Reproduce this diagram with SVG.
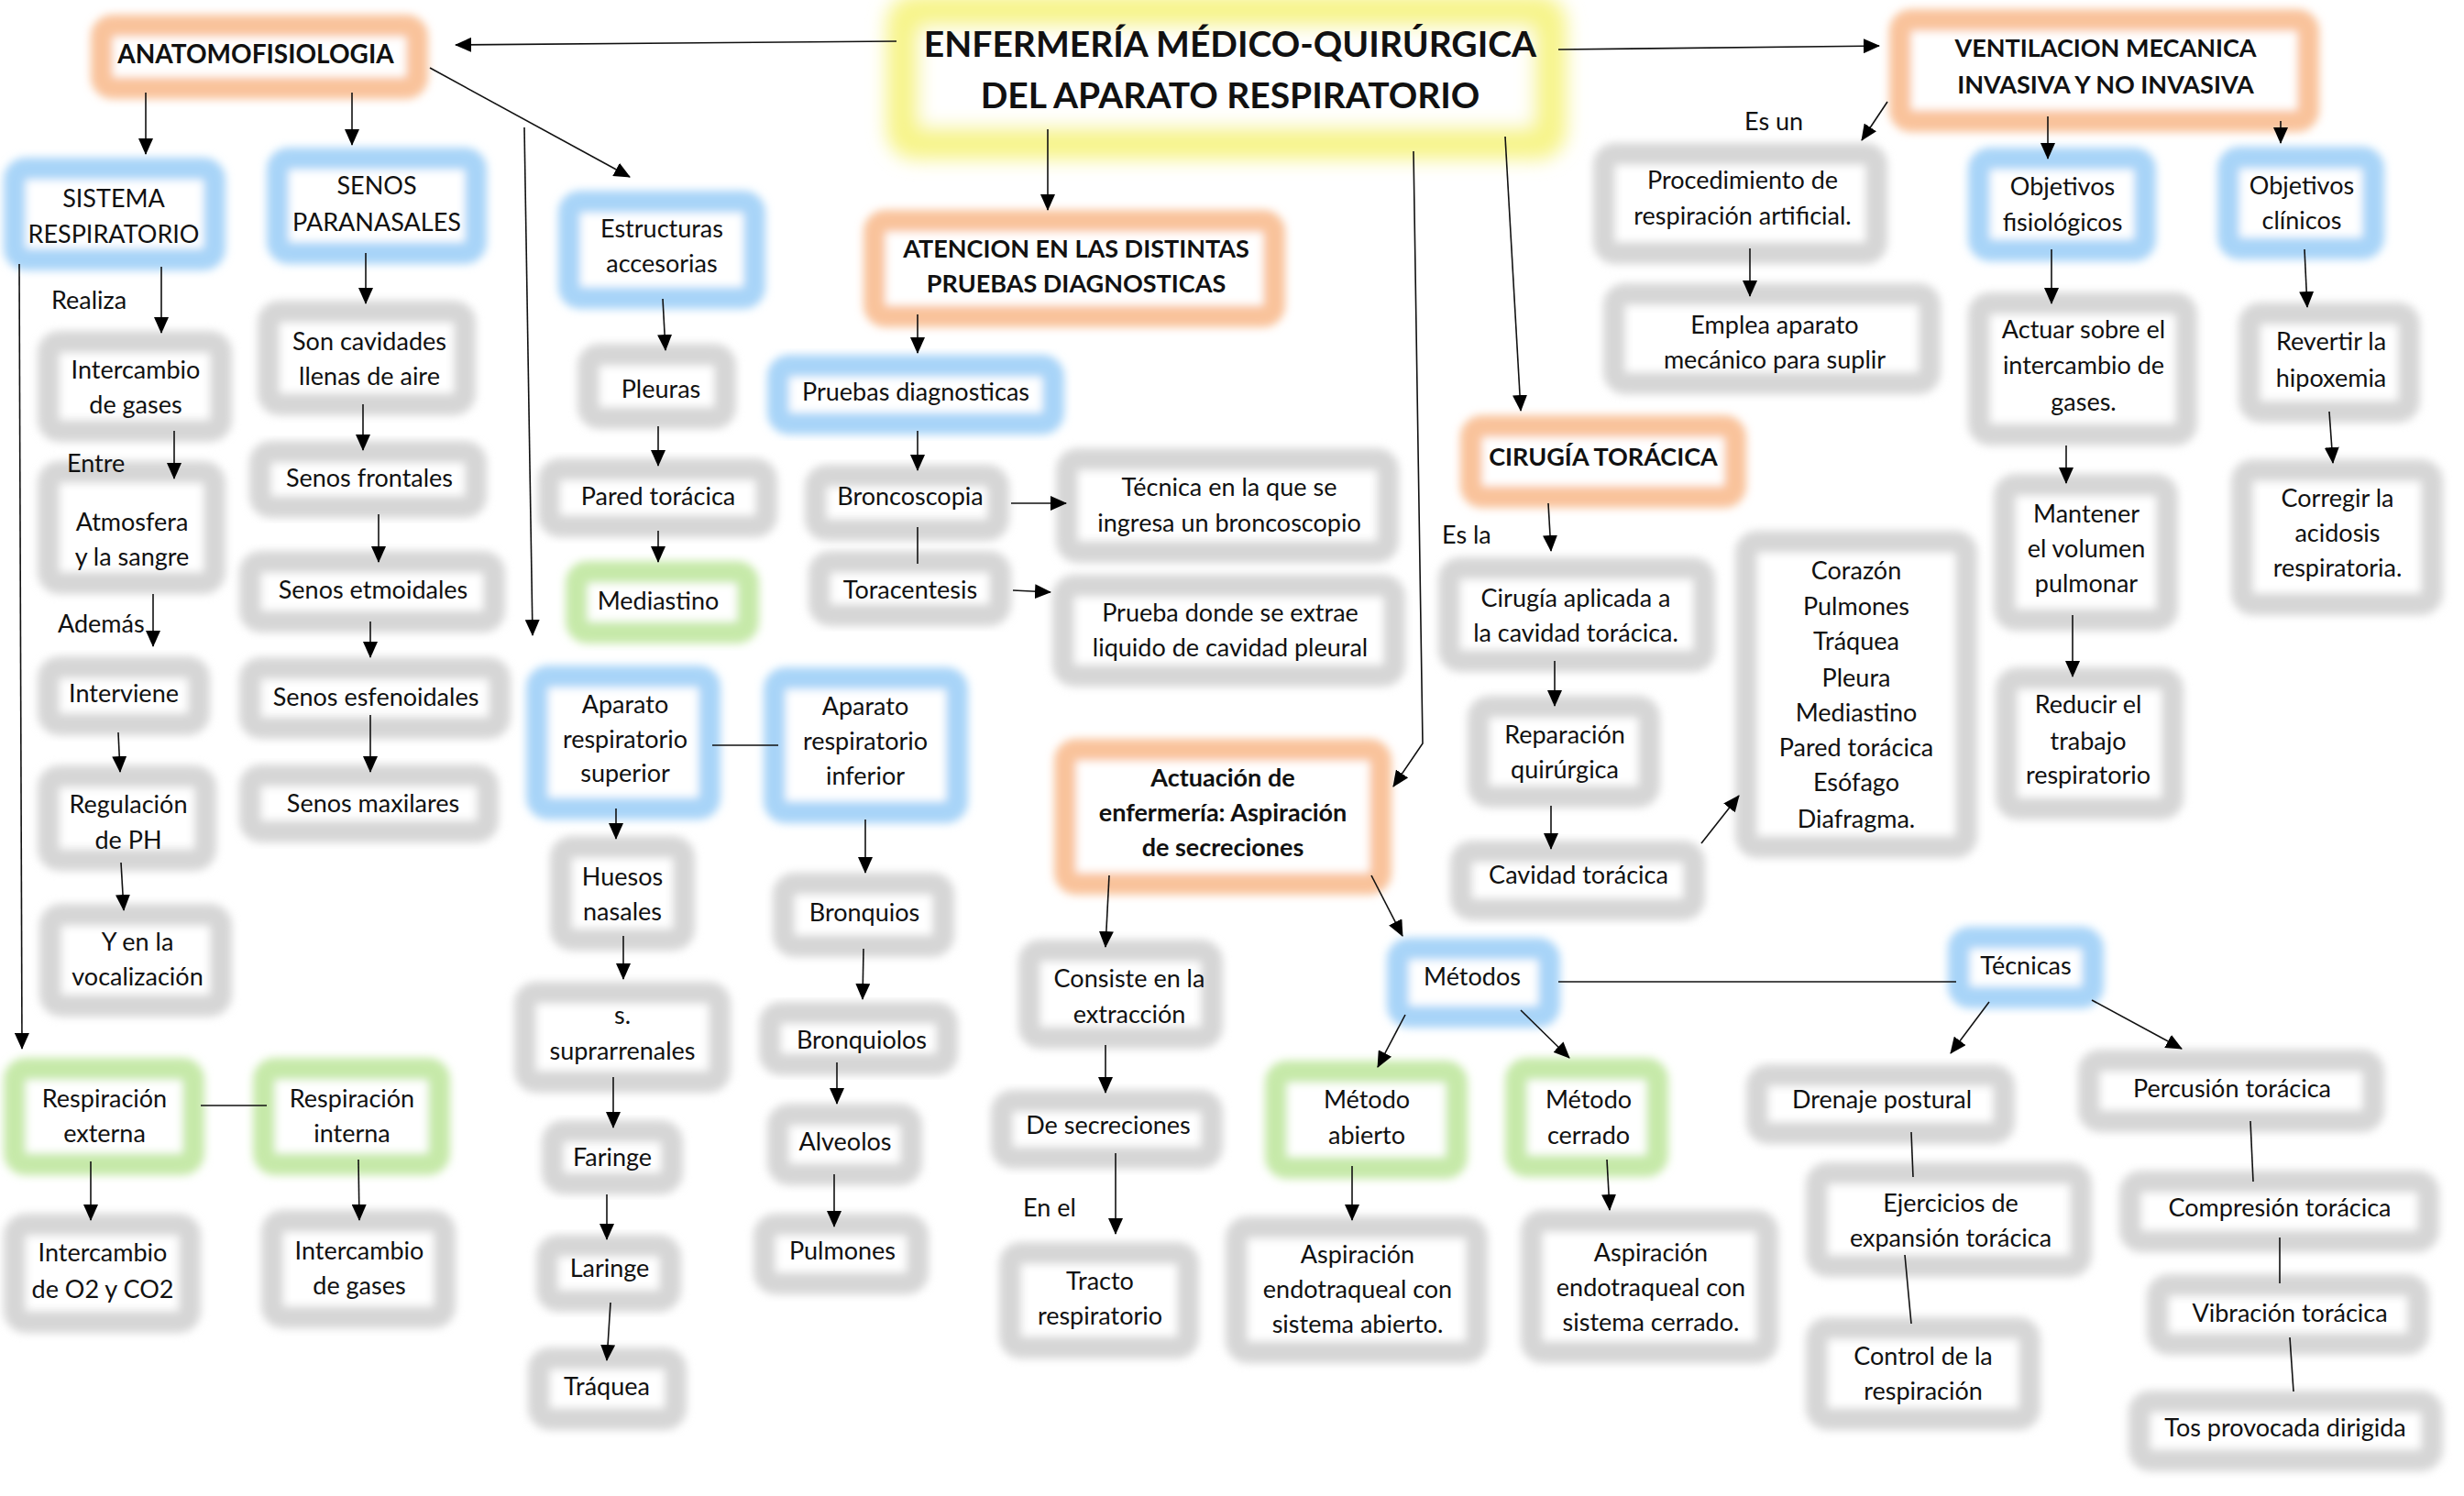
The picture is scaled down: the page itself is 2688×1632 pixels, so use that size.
<svg xmlns="http://www.w3.org/2000/svg" width="2688" height="1632" viewBox="0 0 2688 1632">
<defs>
<filter id="glow" x="-20%" y="-30%" width="140%" height="160%"><feGaussianBlur stdDeviation="5"/></filter>
<filter id="glow2" x="-10%" y="-30%" width="120%" height="160%"><feGaussianBlur stdDeviation="10"/></filter>
<marker id="ah" markerUnits="userSpaceOnUse" markerWidth="18" markerHeight="16" refX="17" refY="8" orient="auto"><path d="M0,0 L18,8 L0,16 z" fill="#000"/></marker>
<style>
.bx{fill:#fff;stroke-width:24;filter:url(#glow)}
.gy{stroke:#d6d6d6}.bl{stroke:#a8d4f8}.or{stroke:#f9c39b}.gr{stroke:#c6e9a9}
.yl{fill:#fff;stroke:#f7f48a;stroke-width:36;filter:url(#glow2)}
text{font-family:Lato,"Liberation Sans",sans-serif;font-size:27px;fill:#111;text-anchor:middle}
.b{font-weight:bold}
.lbl{text-anchor:start}
.c line,.c polyline{stroke:#111;stroke-width:1.6;fill:none}
.c .a{marker-end:url(#ah)}
</style>
</defs>
<rect width="2688" height="1632" fill="#fff"/>

<g id="n-title"><rect class="yl" x="985" y="12" width="706" height="144" rx="14"/><text class="b" style="font-size:39px" x="1342" y="62">ENFERMERÍA MÉDICO-QUIRÚRGICA</text><text class="b" style="font-size:39px" x="1342" y="118">DEL APARATO RESPIRATORIO</text></g>
<g id="n-anato"><rect class="bx or" x="111" y="28" width="344" height="68" rx="12"/><text class="b" style="font-size:28px" x="279" y="69">ANATOMOFISIOLOGIA</text></g>
<g id="n-sistema"><rect class="bx bl" x="16" y="184" width="218" height="99" rx="12"/><text x="124" y="226">SISTEMA</text><text x="124" y="265">RESPIRATORIO</text></g>
<g id="n-interc1"><rect class="bx gy" x="53" y="373" width="188" height="97" rx="12"/><text x="148" y="413">Intercambio</text><text x="148" y="451">de gases</text></g>
<g id="n-atmos"><rect class="bx gy" x="53" y="515" width="181" height="121" rx="12"/><text x="144" y="579">Atmosfera</text><text x="144" y="617">y la sangre</text></g>
<g id="n-interviene"><rect class="bx gy" x="53" y="728" width="164" height="62" rx="12"/><text x="135" y="766">Interviene</text></g>
<g id="n-regul"><rect class="bx gy" x="53" y="847" width="171" height="91" rx="12"/><text x="140" y="887">Regulación</text><text x="140" y="926">de PH</text></g>
<g id="n-yen"><rect class="bx gy" x="55" y="998" width="186" height="99" rx="12"/><text x="150" y="1037">Y en la</text><text x="150" y="1075">vocalización</text></g>
<g id="n-senos"><rect class="bx bl" x="303" y="173" width="216" height="103" rx="12"/><text x="411" y="212">SENOS</text><text x="411" y="252">PARANASALES</text></g>
<g id="n-son"><rect class="bx gy" x="293" y="340" width="214" height="101" rx="12"/><text x="403" y="382">Son cavidades</text><text x="403" y="420">llenas de aire</text></g>
<g id="n-front"><rect class="bx gy" x="284" y="493" width="235" height="60" rx="12"/><text x="403" y="531">Senos frontales</text></g>
<g id="n-etm"><rect class="bx gy" x="273" y="613" width="266" height="65" rx="12"/><text x="407" y="653">Senos etmoidales</text></g>
<g id="n-esf"><rect class="bx gy" x="273" y="729" width="272" height="65" rx="12"/><text x="410" y="770">Senos esfenoidales</text></g>
<g id="n-max"><rect class="bx gy" x="273" y="846" width="259" height="61" rx="12"/><text x="407" y="886">Senos maxilares</text></g>
<g id="n-estr"><rect class="bx bl" x="621" y="220" width="202" height="105" rx="12"/><text x="722" y="259">Estructuras</text><text x="722" y="297">accesorias</text></g>
<g id="n-pleuras"><rect class="bx gy" x="642" y="387" width="149" height="69" rx="12"/><text x="721" y="434">Pleuras</text></g>
<g id="n-pared"><rect class="bx gy" x="599" y="512" width="237" height="62" rx="12"/><text x="718" y="551">Pared torácica</text></g>
<g id="n-medi"><rect class="bx gr" x="629" y="624" width="187" height="66" rx="12"/><text x="718" y="665">Mediastino</text></g>
<g id="n-apsup"><rect class="bx bl" x="586" y="738" width="188" height="144" rx="12"/><text x="682" y="778">Aparato</text><text x="682" y="816">respiratorio</text><text x="682" y="853">superior</text></g>
<g id="n-apinf"><rect class="bx bl" x="845" y="740" width="199" height="146" rx="12"/><text x="944" y="780">Aparato</text><text x="944" y="818">respiratorio</text><text x="944" y="856">inferior</text></g>
<g id="n-huesos"><rect class="bx gy" x="612" y="924" width="134" height="101" rx="12"/><text x="679" y="966">Huesos</text><text x="679" y="1004">nasales</text></g>
<g id="n-supra"><rect class="bx gy" x="573" y="1083" width="212" height="97" rx="12"/><text x="679" y="1117">s.</text><text x="679" y="1156">suprarrenales</text></g>
<g id="n-faringe"><rect class="bx gy" x="603" y="1234" width="130" height="57" rx="12"/><text x="668" y="1272">Faringe</text></g>
<g id="n-laringe"><rect class="bx gy" x="597" y="1359" width="134" height="60" rx="12"/><text x="665" y="1393">Laringe</text></g>
<g id="n-traquea"><rect class="bx gy" x="588" y="1482" width="149" height="66" rx="12"/><text x="662" y="1522">Tráquea</text></g>
<g id="n-bronquios"><rect class="bx gy" x="855" y="964" width="174" height="68" rx="12"/><text x="943" y="1005">Bronquios</text></g>
<g id="n-bronquiolos"><rect class="bx gy" x="840" y="1105" width="193" height="56" rx="12"/><text x="940" y="1144">Bronquiolos</text></g>
<g id="n-alveolos"><rect class="bx gy" x="849" y="1216" width="145" height="65" rx="12"/><text x="922" y="1255">Alveolos</text></g>
<g id="n-pulmones"><rect class="bx gy" x="834" y="1336" width="167" height="64" rx="12"/><text x="919" y="1374">Pulmones</text></g>
<g id="n-atencion"><rect class="bx or" x="954" y="241" width="436" height="104" rx="12"/><text class="b" x="1174" y="281">ATENCION EN LAS DISTINTAS</text><text class="b" x="1174" y="319">PRUEBAS DIAGNOSTICAS</text></g>
<g id="n-pruebas"><rect class="bx bl" x="849" y="399" width="300" height="63" rx="12"/><text x="999" y="437">Pruebas diagnosticas</text></g>
<g id="n-bronco"><rect class="bx gy" x="890" y="519" width="199" height="59" rx="12"/><text x="993" y="551">Broncoscopia</text></g>
<g id="n-tora"><rect class="bx gy" x="894" y="613" width="197" height="58" rx="12"/><text x="993" y="653">Toracentesis</text></g>
<g id="n-tecnica"><rect class="bx gy" x="1164" y="501" width="350" height="101" rx="12"/><text x="1341" y="541">Técnica en la que se</text><text x="1341" y="580">ingresa un broncoscopio</text></g>
<g id="n-prueba"><rect class="bx gy" x="1160" y="639" width="361" height="98" rx="12"/><text x="1342" y="678">Prueba donde se extrae</text><text x="1342" y="716">liquido de cavidad pleural</text></g>
<g id="n-cirugia"><rect class="bx or" x="1605" y="465" width="288" height="77" rx="12"/><text class="b" x="1749" y="508">CIRUGÍA TORÁCICA</text></g>
<g id="n-vent"><rect class="bx or" x="2073" y="22" width="445" height="110" rx="12"/><text class="b" x="2297" y="62">VENTILACION MECANICA</text><text class="b" x="2297" y="102">INVASIVA Y NO INVASIVA</text></g>
<g id="n-proc"><rect class="bx gy" x="1750" y="168" width="297" height="108" rx="12"/><text x="1901" y="206">Procedimiento de</text><text x="1901" y="245">respiración artificial.</text></g>
<g id="n-emplea"><rect class="bx gy" x="1761" y="321" width="344" height="97" rx="12"/><text x="1936" y="364">Emplea aparato</text><text x="1936" y="402">mecánico para suplir</text></g>
<g id="n-objf"><rect class="bx bl" x="2159" y="173" width="181" height="100" rx="12"/><text x="2250" y="213">Objetivos</text><text x="2250" y="252">fisiológicos</text></g>
<g id="n-objc"><rect class="bx bl" x="2431" y="172" width="158" height="99" rx="12"/><text x="2511" y="212">Objetivos</text><text x="2511" y="250">clínicos</text></g>
<g id="n-actuar"><rect class="bx gy" x="2159" y="331" width="226" height="143" rx="12"/><text x="2273" y="369">Actuar sobre el</text><text x="2273" y="408">intercambio de</text><text x="2273" y="448">gases.</text></g>
<g id="n-revertir"><rect class="bx gy" x="2454" y="342" width="174" height="107" rx="12"/><text x="2543" y="382">Revertir la</text><text x="2543" y="422">hipoxemia</text></g>
<g id="n-mantener"><rect class="bx gy" x="2187" y="529" width="177" height="147" rx="12"/><text x="2276" y="570">Mantener</text><text x="2276" y="608">el volumen</text><text x="2276" y="646">pulmonar</text></g>
<g id="n-corregir"><rect class="bx gy" x="2446" y="513" width="207" height="146" rx="12"/><text x="2550" y="553">Corregir la</text><text x="2550" y="591">acidosis</text><text x="2550" y="629">respiratoria.</text></g>
<g id="n-reducir"><rect class="bx gy" x="2189" y="740" width="181" height="142" rx="12"/><text x="2278" y="778">Reducir el</text><text x="2278" y="818">trabajo</text><text x="2278" y="855">respiratorio</text></g>
<g id="n-lista"><rect class="bx gy" x="1905" y="591" width="240" height="333" rx="12"/><text x="2025" y="632">Corazón</text><text x="2025" y="671">Pulmones</text><text x="2025" y="709">Tráquea</text><text x="2025" y="749">Pleura</text><text x="2025" y="787">Mediastino</text><text x="2025" y="825">Pared torácica</text><text x="2025" y="863">Esófago</text><text x="2025" y="903">Diafragma.</text></g>
<g id="n-aplicada"><rect class="bx gy" x="1581" y="620" width="278" height="101" rx="12"/><text x="1719" y="662">Cirugía aplicada a</text><text x="1719" y="700">la cavidad torácica.</text></g>
<g id="n-reparacion"><rect class="bx gy" x="1613" y="771" width="186" height="98" rx="12"/><text x="1707" y="811">Reparación</text><text x="1707" y="849">quirúrgica</text></g>
<g id="n-cavidad"><rect class="bx gy" x="1594" y="929" width="254" height="63" rx="12"/><text x="1722" y="964">Cavidad torácica</text></g>
<g id="n-actuacion"><rect class="bx or" x="1162" y="818" width="344" height="146" rx="12"/><text class="b" x="1334" y="858">Actuación de</text><text class="b" x="1334" y="896">enfermería: Aspiración</text><text class="b" x="1334" y="934">de secreciones</text></g>
<g id="n-consiste"><rect class="bx gy" x="1123" y="1037" width="199" height="95" rx="12"/><text x="1232" y="1077">Consiste en la</text><text x="1232" y="1116">extracción</text></g>
<g id="n-desecr"><rect class="bx gy" x="1093" y="1201" width="229" height="62" rx="12"/><text x="1209" y="1237">De secreciones</text></g>
<g id="n-tracto"><rect class="bx gy" x="1102" y="1367" width="194" height="103" rx="12"/><text x="1200" y="1407">Tracto</text><text x="1200" y="1445">respiratorio</text></g>
<g id="n-metodos"><rect class="bx bl" x="1525" y="1035" width="165" height="74" rx="12"/><text x="1606" y="1075">Métodos</text></g>
<g id="n-tecnicas"><rect class="bx bl" x="2137" y="1023" width="146" height="65" rx="12"/><text x="2210" y="1063">Técnicas</text></g>
<g id="n-mab"><rect class="bx gr" x="1392" y="1169" width="197" height="105" rx="12"/><text x="1491" y="1209">Método</text><text x="1491" y="1248">abierto</text></g>
<g id="n-mce"><rect class="bx gr" x="1654" y="1166" width="154" height="106" rx="12"/><text x="1733" y="1209">Método</text><text x="1733" y="1248">cerrado</text></g>
<g id="n-asab"><rect class="bx gy" x="1349" y="1339" width="262" height="136" rx="12"/><text x="1481" y="1378">Aspiración</text><text x="1481" y="1416">endotraqueal con</text><text x="1481" y="1454">sistema abierto.</text></g>
<g id="n-asce"><rect class="bx gy" x="1671" y="1332" width="257" height="143" rx="12"/><text x="1801" y="1376">Aspiración</text><text x="1801" y="1414">endotraqueal con</text><text x="1801" y="1452">sistema cerrado.</text></g>
<g id="n-drenaje"><rect class="bx gy" x="1917" y="1173" width="269" height="63" rx="12"/><text x="2053" y="1209">Drenaje postural</text></g>
<g id="n-ejer"><rect class="bx gy" x="1982" y="1280" width="288" height="101" rx="12"/><text x="2128" y="1322">Ejercicios de</text><text x="2128" y="1360">expansión torácica</text></g>
<g id="n-control"><rect class="bx gy" x="1982" y="1449" width="232" height="99" rx="12"/><text x="2098" y="1489">Control de la</text><text x="2098" y="1527">respiración</text></g>
<g id="n-percusion"><rect class="bx gy" x="2279" y="1157" width="310" height="66" rx="12"/><text x="2435" y="1197">Percusión torácica</text></g>
<g id="n-compresion"><rect class="bx gy" x="2324" y="1289" width="325" height="65" rx="12"/><text x="2487" y="1327">Compresión torácica</text></g>
<g id="n-vibracion"><rect class="bx gy" x="2354" y="1402" width="284" height="64" rx="12"/><text x="2498" y="1442">Vibración torácica</text></g>
<g id="n-tos"><rect class="bx gy" x="2334" y="1529" width="319" height="64" rx="12"/><text x="2493" y="1567">Tos provocada dirigida</text></g>
<g id="n-rext"><rect class="bx gr" x="16" y="1166" width="195" height="104" rx="12"/><text x="114" y="1208">Respiración</text><text x="114" y="1246">externa</text></g>
<g id="n-rint"><rect class="bx gr" x="288" y="1166" width="191" height="104" rx="12"/><text x="384" y="1208">Respiración</text><text x="384" y="1246">interna</text></g>
<g id="n-io2"><rect class="bx gy" x="16" y="1336" width="191" height="106" rx="12"/><text x="112" y="1376">Intercambio</text><text x="112" y="1416">de O2 y CO2</text></g>
<g id="n-ig2"><rect class="bx gy" x="297" y="1332" width="188" height="105" rx="12"/><text x="392" y="1374">Intercambio</text><text x="392" y="1412">de gases</text></g>

<g id="labels">
<text class="lbl" x="56" y="337">Realiza</text>
<text class="lbl" x="73" y="515">Entre</text>
<text class="lbl" x="63" y="690">Además</text>
<text class="lbl" x="1903" y="142">Es un</text>
<text class="lbl" x="1573" y="593">Es la</text>
<text class="lbl" x="1116" y="1327">En el</text>
</g>

<g id="connectors" class="c">
<line class="a" x1="978" y1="45" x2="497" y2="49"/>
<line class="a" x1="159" y1="101" x2="159" y2="168"/>
<line class="a" x1="384" y1="101" x2="384" y2="158"/>
<line class="a" x1="469" y1="74" x2="687" y2="193"/>
<line class="a" x1="572" y1="139" x2="581" y2="693"/>
<line class="a" x1="21" y1="288" x2="24" y2="1144"/>
<line class="a" x1="176" y1="291" x2="176" y2="363"/>
<line class="a" x1="190" y1="470" x2="190" y2="522"/>
<line class="a" x1="167" y1="648" x2="167" y2="705"/>
<line class="a" x1="129" y1="799" x2="131" y2="842"/>
<line class="a" x1="132" y1="941" x2="135" y2="993"/>
<line class="a" x1="399" y1="276" x2="399" y2="331"/>
<line class="a" x1="396" y1="441" x2="396" y2="491"/>
<line class="a" x1="413" y1="561" x2="413" y2="613"/>
<line class="a" x1="404" y1="678" x2="404" y2="717"/>
<line class="a" x1="404" y1="780" x2="404" y2="842"/>
<line class="a" x1="723" y1="326" x2="726" y2="382"/>
<line class="a" x1="718" y1="465" x2="718" y2="508"/>
<line class="a" x1="718" y1="579" x2="718" y2="613"/>
<line x1="777" y1="813" x2="849" y2="813"/>
<line class="a" x1="672" y1="882" x2="672" y2="915"/>
<line class="a" x1="680" y1="1021" x2="680" y2="1068"/>
<line class="a" x1="669" y1="1175" x2="669" y2="1230"/>
<line class="a" x1="662" y1="1303" x2="662" y2="1352"/>
<line class="a" x1="666" y1="1421" x2="662" y2="1484"/>
<line class="a" x1="944" y1="894" x2="944" y2="952"/>
<line class="a" x1="942" y1="1035" x2="941" y2="1090"/>
<line class="a" x1="913" y1="1159" x2="913" y2="1204"/>
<line class="a" x1="910" y1="1281" x2="910" y2="1338"/>
<line class="a" x1="1143" y1="141" x2="1143" y2="229"/>
<line class="a" x1="1001" y1="343" x2="1001" y2="385"/>
<line class="a" x1="1001" y1="470" x2="1001" y2="513"/>
<line class="a" x1="1103" y1="549" x2="1163" y2="549"/>
<line x1="1001" y1="575" x2="1001" y2="615"/>
<line class="a" x1="1105" y1="644" x2="1146" y2="646"/>
<polyline class="a" points="1542,165 1552,811 1520,858"/>
<line class="a" x1="1642" y1="149" x2="1659" y2="448"/>
<line class="a" x1="1700" y1="54" x2="2050" y2="50"/>
<line class="a" x1="2059" y1="111" x2="2031" y2="153"/>
<line class="a" x1="1909" y1="271" x2="1909" y2="323"/>
<line class="a" x1="2234" y1="127" x2="2234" y2="173"/>
<line class="a" x1="2488" y1="132" x2="2488" y2="156"/>
<line class="a" x1="2238" y1="272" x2="2238" y2="331"/>
<line class="a" x1="2514" y1="272" x2="2517" y2="335"/>
<line class="a" x1="2541" y1="449" x2="2545" y2="505"/>
<line class="a" x1="2254" y1="486" x2="2254" y2="527"/>
<line class="a" x1="2261" y1="671" x2="2261" y2="738"/>
<line class="a" x1="1689" y1="549" x2="1692" y2="601"/>
<line class="a" x1="1696" y1="721" x2="1696" y2="770"/>
<line class="a" x1="1692" y1="879" x2="1692" y2="926"/>
<line class="a" x1="1856" y1="920" x2="1897" y2="868"/>
<line class="a" x1="1210" y1="955" x2="1206" y2="1033"/>
<line class="a" x1="1496" y1="955" x2="1530" y2="1021"/>
<line class="a" x1="1206" y1="1140" x2="1206" y2="1192"/>
<line class="a" x1="1217" y1="1258" x2="1217" y2="1346"/>
<line x1="1700" y1="1071" x2="2134" y2="1071"/>
<line class="a" x1="1533" y1="1107" x2="1503" y2="1164"/>
<line class="a" x1="1659" y1="1102" x2="1712" y2="1154"/>
<line class="a" x1="1475" y1="1272" x2="1475" y2="1331"/>
<line class="a" x1="1753" y1="1265" x2="1756" y2="1320"/>
<line class="a" x1="2170" y1="1093" x2="2128" y2="1149"/>
<line class="a" x1="2282" y1="1091" x2="2380" y2="1144"/>
<line x1="2085" y1="1235" x2="2087" y2="1284"/>
<line x1="2078" y1="1369" x2="2085" y2="1444"/>
<line x1="2455" y1="1223" x2="2458" y2="1289"/>
<line x1="2487" y1="1350" x2="2487" y2="1400"/>
<line x1="2498" y1="1459" x2="2502" y2="1518"/>
<line x1="219" y1="1206" x2="291" y2="1206"/>
<line class="a" x1="99" y1="1267" x2="99" y2="1331"/>
<line class="a" x1="391" y1="1265" x2="392" y2="1331"/>
</g>
</svg>
